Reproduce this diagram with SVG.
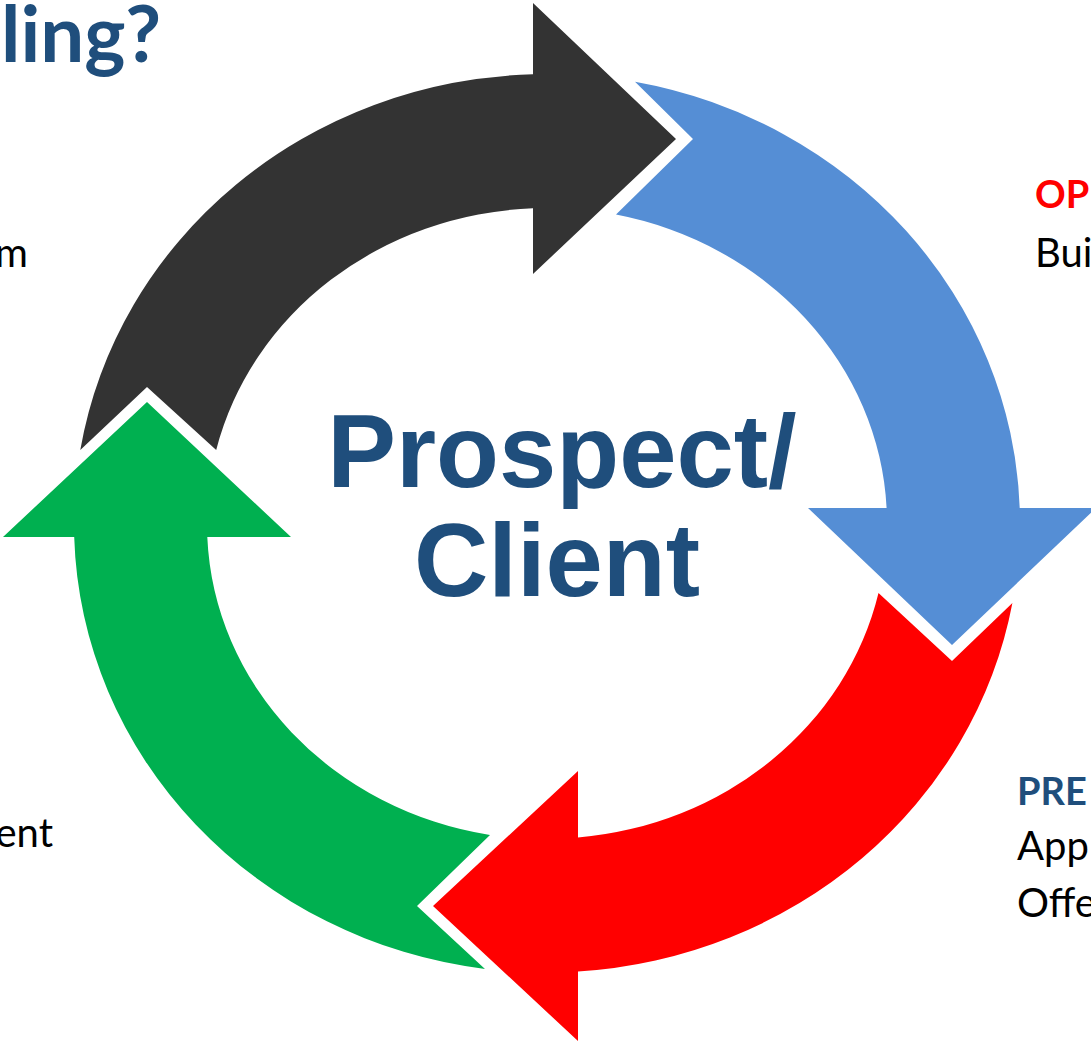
<svg xmlns="http://www.w3.org/2000/svg" width="1091" height="1042" viewBox="0 0 1091 1042">
  <style>
    .body { font-family: Lato, "Open Sans", "Liberation Sans", sans-serif; }
    .hub { font-family: "Liberation Sans", Arial, sans-serif; font-weight: bold; font-size: 103px; fill: #1F4E7C; }
    .head { font-weight: bold; font-size: 38px; }
    .line { font-size: 40px; fill: #000000; }
    .dark { fill: #333333; }
    .blue { fill: #558ED5; }
    .red { fill: #FF0000; }
    .green { fill: #00B050; }
  </style>
  <rect width="1091" height="1042" fill="#FFFFFF"/>

  <!-- heading and side labels running off the edges -->
  <g id="title">
    <text class="body" x="1" y="62" font-size="78" font-weight="bold" fill="#1F4E7C">ling?</text>
  </g>
  <g id="label-left-top">
    <text class="body line" x="28" y="267" text-anchor="end">m</text>
  </g>
  <g id="label-left-bottom">
    <text class="body line" x="53" y="847" text-anchor="end">ent</text>
  </g>
  <g id="label-right-top">
    <text class="body head" x="1035" y="208" fill="#FF0000">OP</text>
    <text class="body line" x="1035" y="267">Bui</text>
  </g>
  <g id="label-right-bottom">
    <text class="body head" x="1017" y="805" fill="#1F4E7C">PRE</text>
    <text class="body line" x="1017" y="860">App</text>
    <text class="body line" x="1017" y="917">Offe</text>
  </g>

  <!-- four curved arrows forming the cycle (ellipse centre 547,523) -->
  <g id="connectors">
    <path id="arrow-dark" class="dark" d="M 80.3,450 A 473 449 0 0 1 533,74.2 L 533,3 L 676,139 L 533,274 L 533,208.3 A 340 315 0 0 0 216.2,450 L 147,387 Z"/>
    <path id="arrow-blue" class="blue" d="M 635,81.8 A 473 449 0 0 1 1019.7,508 L 1096,508 L 952,645 L 808,508 L 886.6,508 A 340 315 0 0 0 616,214.6 L 693,139 Z"/>
    <path id="arrow-red" class="red" d="M 1012.4,603 A 473 449 0 0 1 578,971.5 L 578,1041 L 433,906 L 578,771 L 578,837.5 A 340 315 0 0 0 878.5,593 L 952,661 Z"/>
    <path id="arrow-green" class="green" d="M 485,969 A 473 449 0 0 1 74.2,537 L 3,537 L 147,402 L 291,537 L 207.3,537 A 340 315 0 0 0 490,835 L 417,906 Z"/>
  </g>

  <!-- hub label -->
  <g id="hub">
    <text class="hub" x="562" y="487" text-anchor="middle">Prospect/</text>
    <text class="hub" x="557" y="596" text-anchor="middle">Client</text>
  </g>
</svg>
